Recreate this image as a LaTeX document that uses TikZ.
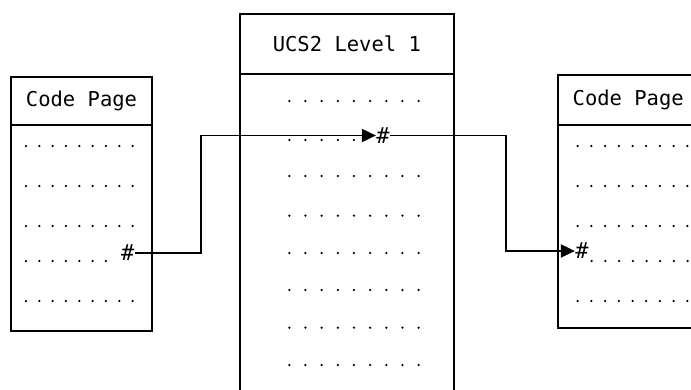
\documentclass[tikz,border=0pt]{standalone}
\usepackage{fontspec}
\setmonofont{DejaVu Sans Mono}
\usetikzlibrary{arrows.meta}
\begin{document}
\begin{tikzpicture}[x=1pt,y=-1pt,
  frame/.style={draw,line width=2pt,inner sep=0pt,anchor=north west},
  title/.style={frame,font=\fontsize{20.5}{21}\selectfont\ttfamily},
  hash/.style={inner sep=0.3pt,font=\fontsize{22}{22}\selectfont\ttfamily},
  conn/.style={line width=1.9pt},
  tip/.style={-{Triangle[length=14pt,width=13pt]}},
  dotmark/.style={fill=black}]
\useasboundingbox (0,0) rectangle (691,389);
\clip (0,0) rectangle (691,389);
% left code page
\node[frame,minimum width=141pt,minimum height=254pt] (L) at (10,76) {};
\node[title,minimum width=141pt,minimum height=48pt] (Lh) at (10,76) {Code Page};
% central UCS2 table
\node[frame,minimum width=213.7pt,minimum height=400pt] (C) at (239,12.7) {};
\node[title,minimum width=213.7pt,minimum height=60.6pt] (Ch) at (239,12.7) {UCS2 Level 1};
% right code page
\node[frame,minimum width=141pt,minimum height=253pt] (R) at (556.7,74) {};
\node[title,minimum width=141pt,minimum height=50pt] (Rh) at (556.7,74) {Code Page};
% dots
\foreach \y in {146,186,226,301} \foreach \i in {0,...,8}
  \fill[dotmark] (26+13.33*\i,\y) circle (1.25pt);
\foreach \i in {0,...,6} \fill[dotmark] (26+13.33*\i,261) circle (1.25pt);
\foreach \y in {101,176,215.7,253,290,327.7,365} \foreach \i in {0,...,8}
  \fill[dotmark] (289.3+16.17*\i,\y) circle (1.25pt);
\foreach \i in {0,...,4} \fill[dotmark] (289.3+16.17*\i,140) circle (1.25pt);
\foreach \y in {146,186,226,301} \foreach \i in {0,...,8}
  \fill[dotmark] (577.7+13.7*\i,\y) circle (1.25pt);
\foreach \i in {0,...,7} \fill[dotmark] (591.7+13.7*\i,261) circle (1.25pt);
% hash marks
\node[hash] (hL) at (127.7,252.7) {\#};
\node[hash] (hC) at (383,135.5) {\#};
\node[hash] (hR) at (582,251) {\#};
% connectors
\coordinate (b1) at (201,0);
\coordinate (b2) at (506,0);
\draw[conn,tip] (hL.east) -- (hL.east -| b1) -- (b1 |- hC.west) -- (hC.west);
\draw[conn,tip] (hC.east) -- (hC.east -| b2) -- (b2 |- hR.west) -- (hR.west);
\end{tikzpicture}
\end{document}
